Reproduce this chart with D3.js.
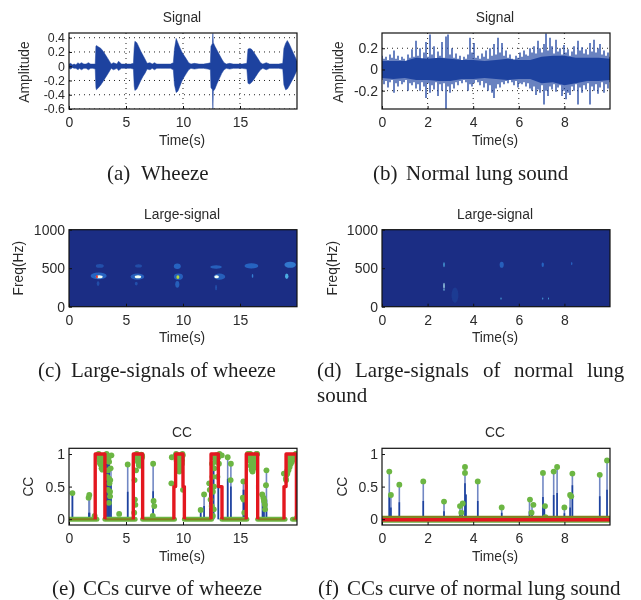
<!DOCTYPE html>
<html><head><meta charset="utf-8">
<style>html,body{margin:0;background:#fff}svg{display:block;filter:blur(.35px)}</style>
<script src="https://cdnjs.cloudflare.com/ajax/libs/d3/7.8.5/d3.min.js"></script>
</head><body><svg id="c" width="641" height="600"></svg>
<script>
// ---- data ----
const wheezeTicksY=[0.4,0.2,0,-0.2,-0.4,-0.6];
const wheezeLabelsY=["0.4","0.2","0","-0.2","-0.4","-0.6"];
const normalTicksY=[0.2,0,-0.2];
const normalLabelsY=["0.2","0","-0.2"];
const freqTicks=[0,500,1000];
const ccTicks=[0,0.5,1];
const ccLabels=["0","0.5","1"];
const ticks20=[0,5,10,15];
const ticks10=[0,2,4,6,8];

const wheezeT=[0,.15,.3,.45,.6,.8,.9,1.1,1.3,1.5,1.7,1.9,2.1,2.3,2.36,2.4,2.6,2.8,3,3.2,3.4,3.55,3.7,3.9,4.2,4.35,4.6,4.8,5.1,5.4,5.65,5.72,5.78,5.95,6.1,6.3,6.5,6.7,6.85,7.1,7.3,7.5,7.7,8,8.5,8.9,9.15,9.25,9.4,9.55,9.7,9.9,10.1,10.3,10.5,10.7,11,11.4,11.8,12.2,12.4,12.45,12.58,12.62,12.66,12.8,13,13.2,13.4,13.6,13.8,14.1,14.4,14.8,15.2,15.6,15.7,15.85,16,16.2,16.4,16.6,16.8,17,17.3,17.6,18,18.4,18.75,18.85,19,19.15,19.3,19.5,19.7,19.9,20];
const wheezeHi=[.03,.04,.02,.03,.02,.05,.03,.05,.03,.03,.05,.03,.03,.03,.28,.29,.27,.25,.21,.16,.11,.07,.03,.05,.03,.07,.03,.03,.03,.03,.04,.26,.35,.33,.28,.21,.15,.09,.04,.05,.03,.05,.03,.03,.03,.03,.05,.24,.39,.33,.27,.2,.15,.1,.05,.03,.04,.03,.03,.04,.05,.28,.32,.46,.33,.28,.22,.16,.1,.05,.03,.04,.03,.03,.03,.04,.24,.25,.24,.2,.15,.1,.05,.03,.05,.03,.03,.03,.04,.25,.32,.36,.32,.25,.18,.11,.07];
const wheezeLo=[-.03,-.04,-.02,-.03,-.03,-.05,-.03,-.05,-.03,-.03,-.05,-.03,-.03,-.04,-.3,-.33,-.3,-.26,-.21,-.16,-.11,-.07,-.03,-.05,-.03,-.06,-.03,-.03,-.03,-.03,-.04,-.28,-.34,-.32,-.27,-.2,-.14,-.09,-.04,-.05,-.03,-.05,-.03,-.03,-.03,-.03,-.05,-.26,-.37,-.35,-.29,-.21,-.15,-.1,-.05,-.03,-.04,-.03,-.03,-.04,-.05,-.3,-.33,-.6,-.35,-.32,-.24,-.17,-.1,-.05,-.03,-.04,-.03,-.03,-.03,-.04,-.24,-.25,-.23,-.19,-.14,-.09,-.05,-.03,-.05,-.03,-.03,-.03,-.04,-.26,-.33,-.32,-.28,-.22,-.16,-.09,-.06];

const normalHi=[.13,.1,.12,.09,.14,.11,.18,.1,.13,.09,.12,.1,.08,.14,.11,.19,.12,.27,.13,.2,.1,.16,.26,.12,.33,.14,.22,.1,.17,.13,.26,.11,.31,.33,.14,.2,.11,.15,.1,.13,.09,.12,.1,.14,.3,.16,.25,.11,.13,.1,.15,.12,.18,.1,.2,.13,.24,.14,.3,.16,.25,.13,.18,.11,.14,.1,.09,.13,.11,.16,.12,.18,.14,.13,.2,.16,.22,.15,.27,.2,.16,.24,.34,.18,.3,.22,.15,.28,.17,.2,.14,.23,.16,.19,.13,.17,.22,.14,.27,.18,.21,.15,.19,.14,.25,.17,.28,.16,.2,.24,.14,.18,.13,.16,.12];
const normalLo=[-.1,-.14,-.11,-.17,-.12,-.1,-.22,-.13,-.16,-.11,-.14,-.12,-.1,-.2,-.13,-.15,-.12,-.18,-.14,-.2,-.12,-.16,-.27,-.13,-.22,-.15,-.19,-.12,-.25,-.14,-.2,-.13,-.37,-.16,-.22,-.14,-.18,-.12,-.15,-.11,-.13,-.1,-.12,-.2,-.14,-.16,-.13,-.1,-.12,-.15,-.11,-.17,-.13,-.2,-.15,-.22,-.27,-.18,-.14,-.17,-.12,-.14,-.11,-.13,-.1,-.12,-.15,-.11,-.17,-.13,-.14,-.12,-.16,-.13,-.18,-.2,-.16,-.24,-.19,-.22,-.15,-.33,-.2,-.25,-.16,-.19,-.14,-.21,-.17,-.15,-.25,-.2,-.28,-.22,-.24,-.16,-.2,-.14,-.33,-.17,-.22,-.15,-.19,-.13,-.33,-.16,-.2,-.14,-.23,-.17,-.12,-.22,-.14,-.18,-.12];
const coreT=[0,.5,1,1.5,2,2.5,3,3.5,4,4.5,5,5.5,6,6.5,7,7.5,8,8.5,9,9.5,10];
const coreHi=[.08,.08,.08,.11,.1,.11,.1,.09,.09,.08,.09,.1,.09,.09,.12,.13,.13,.11,.11,.11,.1];
const coreLo=[-.08,-.09,-.08,-.1,-.1,-.11,-.11,-.09,-.09,-.08,-.09,-.1,-.09,-.09,-.13,-.12,-.15,-.13,-.11,-.11,-.1];

const heatT1=[2.6,6,9.6,13.2,16,19.4,2.7,6.1,9.5,12.9,16.1,19.1,2.55,5.9,9.5,12.9,2.65,6.05,12.95,9.55,2.45];
const heatF1=[400,390,390,390,530,545,530,530,525,515,400,395,300,300,290,250,390,390,388,385,390];
const heatW1=[.7,.6,.4,.5,.6,.5,.35,.3,.3,.5,.07,.15,.12,.12,.18,.07,.3,.28,.2,.13,.08];
const heatH1=[45,40,40,40,35,40,25,22,35,22,25,35,30,25,45,35,20,20,20,25,22];
const heatV1=[.22,.2,.2,.2,.22,.28,.14,.13,.22,.2,.3,.42,.13,.14,.2,.16,.68,.68,.68,.82,1];

const heatT2=[2.72,2.72,2.72,5.25,7.05,8.32,5.22,7.05,7.3,3.2];
const heatF2=[545,270,220,545,545,560,105,105,105,150];
const heatW2=[.03,.03,.025,.09,.05,.03,.025,.025,.02,.15];
const heatH2=[32,40,14,40,30,22,14,14,14,100];
const heatV2=[.42,.6,.55,.2,.22,.22,.42,.38,.42,.05];

const pulseT=[2.3,2.3,3.15,3.15,null,5.64,5.64,6.46,6.46,null,9.2,9.2,9.35,9.35,10,10,10.12,10.12,null,12.46,12.46,13.1,13.1,13.42,13.42,null,15.55,15.55,16.55,16.55,null,18.86,18.86,19.04,19.04,19.95,19.95];
const pulseV=[0,1,1,0,null,0,1,1,0,null,0,.5,.5,1,1,.5,.5,0,null,0,1,1,.5,.5,0,null,0,1,1,0,null,0,.5,.5,1,1,0];
const ccBaseFrom1=[0,3.15,6.46,10.12,13.42,16.55,19.6];
const ccBaseTo1=[2.45,5.8,9.25,12.5,15.6,18.95,20];

const stemT1=[.3,1.75,1.8,2.3,3.3,3.42,3.52,3.68,5.15,7.38,11.55,11.85,12.35,12.5,12.68,13.1,13.92,14.2,15.3,15.42,16.98,17.1,17.32];
const stemV1=[.4,.35,.33,.5,.95,.96,.94,.8,.84,.85,.12,.38,.55,.9,.9,.85,.95,.85,.58,.45,.35,.38,.75];
const stemD1=[.38,.1,.1,.5,.85,.92,.9,.6,.42,.43,.12,.2,.55,.9,.8,.6,.62,.5,.45,.3,.35,.38,.3];

const dotT1=[2.55,2.62,2.7,2.78,2.86,2.94,3.02,3.1,2.6,2.68,
 2.76,2.84,2.92,3,3.08,2.72,2.8,2.88,2.96,3.04,
 3.3,3.38,3.46,3.52,3.42,3.35,3.5,3.55,3.42,3.6,
 3.5,3.72,3.65,3.62,3.6,2.25,.3,1.72,1.78,4.4,
 5.15,7.38,7.42,7.48,7.35,5.75,5.78,5.72,5.82,5.88,
 5.9,5.98,6.05,6.12,6.2,6.28,6.36,5.95,6.02,6.1,
 6.18,6.26,6.34,6.08,6.16,6.24,6.3,6.4,6.42,6.14,
 9.36,9.44,9.52,9.6,9.68,9.76,9.84,9.92,9.98,9.4,
 9.48,9.56,9.64,9.72,9.8,9.88,9.95,9.5,9.58,9.66,
 9.74,9.82,9.9,9.02,8.98,10,9.6,9.7,9.8,9.9,
 11.55,11.85,12.3,12.35,12.42,12.52,12.62,12.7,12.55,12.65,
 12.75,12.85,13.02,13.15,13.2,12.58,12.9,12.72,12.62,13.92,
 14.2,14.18,15.3,15.25,15.38,15.32,13.4,13,12.95,13.1,
 15.7,15.78,15.86,15.94,16.02,16.1,16.18,16.26,16.34,16.42,
 15.8,15.88,15.96,16.04,16.12,16.2,16.28,16.36,16.44,16.5,
 15.9,15.98,16.06,16.14,16.22,16.3,16.95,17.05,17.12,17.18,
 17.32,17.28,17.2,17.1,18.85,19.02,19.08,19.14,19.22,19.3,
 19.38,19.5,19.62,19.75,19.88,19.96,19.2,19.32,19.46,19.05,
 19.15,19.25,19.35,19.45,19.55,19.65,19.8,19.9,20,19.98];
const dotV1=[.99,.95,.9,.84,.78,.76,.8,.9,1,.98,
 .97,.95,.92,.95,.98,.86,.88,.85,.85,.88,
 1,.97,.93,.88,.75,.65,.62,.55,.45,.42,
 .25,.98,.78,.6,.35,.05,.4,.33,.37,.08,
 .84,.85,.28,.2,.05,.6,.3,.1,.22,.75,
 .99,.94,.88,.83,.82,.86,.93,1,.98,.95,
 .93,.95,.99,.9,.88,.9,.97,.98,.96,.98,
 .98,.9,.83,.76,.73,.76,.82,.9,.98,1,
 .97,.93,.88,.84,.88,.94,1,.9,.82,.8,
 .8,.78,.85,.95,.55,.45,.98,.95,.98,.98,
 .14,.38,.55,.45,.3,.2,.05,.15,.85,.95,
 .78,.88,.65,.85,1,.65,.98,.5,.42,.95,
 .85,.6,.58,.33,.1,.3,.98,.98,.92,.95,
 1,.95,.9,.82,.76,.73,.78,.85,.92,.98,
 1,.98,.94,.9,.85,.88,.94,.98,1,1,
 1,.88,.82,.78,.8,.85,.38,.33,.27,.22,
 .75,.52,.15,.3,.7,.62,.68,.74,.8,.85,
 .9,.93,.96,.98,.99,1,.96,.9,.95,.6,
 .7,.75,.8,.85,.88,.92,.97,1,.02,.98];

const stemT2=[.32,.39,.76,1.81,2.72,3.42,3.52,3.64,3.68,4.2,5.25,6.47,6.58,7.06,7.12,7.53,7.68,8,8.25,8.35,9.55,9.87];
const stemV2=[.73,.37,.53,.58,.27,.2,.24,.8,.38,.58,.18,.3,.2,.71,.18,.73,.8,.18,.37,.7,.68,.9];
const stemD2=[.37,.18,.26,.28,.12,.12,.12,.55,.38,.28,.1,.12,.1,.34,.18,.37,.4,.09,.18,.52,.35,.45];
const dotT2=[.32,.39,.76,1.81,2.72,3.42,3.54,3.48,3.64,3.64,4.2,5.25,6.49,6.56,6.64,7.06,7.15,7.17,7.53,7.68,8,8.25,8.3,8.35,9.55,9.87];
const dotV2=[.73,.37,.53,.58,.27,.2,.24,.1,.8,.71,.58,.18,.3,.1,.22,.71,.2,.03,.73,.8,.18,.37,.35,.7,.68,.9];
const flatT2=[0,10];
const flatV2=[0,0];

const captionWords=[
 ["(a)",107,180],["Wheeze",141,180],
 ["(b)",373,180],["Normal lung sound",406,180],
 ["(c)",38,377],["Large-signals of wheeze",71,377],
 ["(d)",317,377],["Large-signals",355,377],["of",483,377],["normal",514,377],["lung",587,377],["sound",317,402],
 ["(e)",52,595],["CCs curve of wheeze",83,595],
 ["(f)",318,595],["CCs curve of normal lung sound",347,595]];

// ---- drawing ----
const svg=d3.select("#c");
const BLUE="#1d429f", LIGHT="#7288c4", GREEN="#6cb643", RED="#e3171f", OLIVE="#80801e", INK="#2b2b2b";
const sans="'Liberation Sans',Arial,sans-serif", serif="'Liberation Serif','Times New Roman',serif";
const defs=svg.append("defs");
defs.append("filter").attr("id","soft").attr("x","-50%").attr("y","-50%").attr("width","200%").attr("height","200%")
  .append("feGaussianBlur").attr("stdDeviation",.6);

function panel(o){
  const x=d3.scaleLinear().domain(o.xd).range([o.l,o.l+228]);
  const y=d3.scaleLinear().domain(o.yd).range([o.b,o.t]);
  const g=svg.append("g");
  const cid="clip"+o.id;
  defs.append("clipPath").attr("id",cid).append("rect").attr("x",o.l).attr("y",o.t).attr("width",228).attr("height",o.b-o.t);
  g.append("rect").attr("x",o.l).attr("y",o.t).attr("width",228).attr("height",o.b-o.t).attr("fill",o.bg||"#fff");
  const plot=g.append("g").attr("clip-path",`url(#${cid})`);
  if(o.grid){
    const gg=plot.append("g").attr("stroke","#222").attr("stroke-dasharray","1 4").attr("stroke-width",1);
    gg.selectAll(".v").data(o.xt.slice(1)).join("line").attr("x1",x).attr("x2",x).attr("y1",o.t).attr("y2",o.b);
    gg.selectAll(".h").data(o.yt).join("line").attr("x1",o.l).attr("x2",o.l+228).attr("y1",y).attr("y2",y);
  }
  o.draw(plot,x,y);
  const xa=d3.axisBottom(x).tickValues(o.xt).tickFormat(d3.format("d")).tickSizeInner(-3).tickSizeOuter(0).tickPadding(8);
  const ya=d3.axisLeft(y).tickValues(o.yt).tickFormat((d,i)=>o.yl[i]).tickSizeInner(-3).tickSizeOuter(0).tickPadding(4);
  const ax=g.append("g").attr("transform",`translate(0,${o.b})`).call(xa);
  const ay=g.append("g").attr("transform",`translate(${o.l},0)`).call(ya);
  [ax,ay].forEach(a=>{a.select(".domain").remove();
    a.selectAll("text").attr("font-family",sans).attr("font-size",14).attr("fill",INK);
    a.selectAll("line").attr("stroke","#111");});
  if(o.ytSize) ay.selectAll("text").attr("font-size",o.ytSize);
  g.append("rect").attr("x",o.l).attr("y",o.t).attr("width",228).attr("height",o.b-o.t).attr("fill","none").attr("stroke","#111").attr("stroke-width",1.2);
  const lab=(s,tx,ty,rot)=>g.append("text").text(s).attr("text-anchor","middle").attr("dominant-baseline","central")
     .attr("font-family",sans).attr("font-size",13.8).attr("fill",INK)
     .attr("transform",`translate(${tx},${ty})`+(rot?" rotate(-90)":""));
  lab(o.title,o.l+113,o.t-(o.titleGap),false);
  lab("Time(s)",o.l+113,o.b+(o.timeGap),false);
  lab(o.ylabel,o.ylx,(o.t+o.b)/2+(o.yly||0),true);
}

function zipArea(T,Hi,Lo){return T.map((t,i)=>({t,hi:Hi[i],lo:Lo[i]}));}
const heatColor=d3.scaleLinear().domain([0,.25,.5,.68,.82,1]).range(["#1b2d84","#2a6cc9","#5cc8ee","#f2fff4","#b8d93a","#e02a20"]);
function heat(T,F,W,H,V){
  return (p,x,y)=>{
    p.append("g").attr("filter","url(#soft)").selectAll("ellipse").data(T.map((t,i)=>i)).join("ellipse")
      .attr("cx",i=>x(T[i])).attr("cy",i=>y(F[i]))
      .attr("rx",i=>Math.abs(x(W[i])-x(0))).attr("ry",i=>Math.abs(y(H[i])-y(0)))
      .attr("fill",i=>heatColor(V[i]));
  };
}
function cc(stT,stV,stD,dT,dV,after){
  return (p,x,y)=>{
    const s=p.append("g");
    s.selectAll(".l").data(stT).join("line").attr("x1",x).attr("x2",x).attr("y1",y(0)).attr("y2",(d,i)=>y(stV[i])).attr("stroke",LIGHT).attr("stroke-width",1.6);
    s.selectAll(".d").data(stT).join("line").attr("x1",x).attr("x2",x).attr("y1",y(0)).attr("y2",(d,i)=>y(stD[i])).attr("stroke",BLUE).attr("stroke-width",1.6);
    after(p,x,y,()=>{
      p.append("g").selectAll("path").data(dT).join("path")
       .attr("d",d3.symbol(d3.symbolCircle,27)).attr("transform",(d,i)=>`translate(${x(d)},${y(dV[i])})`).attr("fill",GREEN);
    });
  };
}

panel({id:"a",l:69,t:33,b:109,xd:[0,20],yd:[-.6,.466],xt:ticks20,yt:wheezeTicksY,yl:wheezeLabelsY,ytSize:12.4,grid:true,title:"Signal",titleGap:16,timeGap:31,ylabel:"Amplitude",ylx:24,yly:1,
 draw:(p,x,y)=>{
  p.append("path").datum(zipArea(wheezeT,wheezeHi,wheezeLo)).attr("fill",BLUE).attr("stroke",BLUE).attr("stroke-width",.5)
   .attr("d",d3.area().x(d=>x(d.t)).y0(d=>y(d.lo)).y1(d=>y(d.hi)));
 }});
panel({id:"b",l:382,t:33,b:109,xd:[0,10],yd:[-.373,.344],xt:ticks10,yt:normalTicksY,yl:normalLabelsY,grid:true,title:"Signal",titleGap:16,timeGap:31,ylabel:"Amplitude",ylx:338,yly:1,
 draw:(p,x,y)=>{
  const n=normalHi.length-1;
  p.append("g").selectAll("line").data(normalHi).join("line")
   .attr("x1",(d,i)=>x(i*10/n)).attr("x2",(d,i)=>x(i*10/n)).attr("y1",y).attr("y2",(d,i)=>y(normalLo[i]))
   .attr("stroke",BLUE).attr("stroke-width",1.5).attr("stroke-opacity",.88);
  p.append("path").datum(zipArea(coreT,coreHi,coreLo)).attr("fill",BLUE)
   .attr("d",d3.area().x(d=>x(d.t)).y0(d=>y(d.lo)).y1(d=>y(d.hi)));
 }});
panel({id:"c",l:69,t:229.7,b:306.7,xd:[0,20],yd:[0,1000],xt:ticks20,yt:freqTicks,yl:freqTicks.map(String),bg:"#1b2d84",title:"Large-signal",titleGap:15.5,timeGap:30.5,ylabel:"Freq(Hz)",ylx:18,
 draw:heat(heatT1,heatF1,heatW1,heatH1,heatV1)});
panel({id:"d",l:382,t:229.7,b:306.7,xd:[0,10],yd:[0,1000],xt:ticks10,yt:freqTicks,yl:freqTicks.map(String),bg:"#1b2d84",title:"Large-signal",titleGap:15.5,timeGap:30.5,ylabel:"Freq(Hz)",ylx:332,
 draw:heat(heatT2,heatF2,heatW2,heatH2,heatV2)});
panel({id:"e",l:69,t:448.3,b:525,xd:[0,20],yd:[-.09,1.088],xt:ticks20,yt:ccTicks,yl:ccLabels,title:"CC",titleGap:16,timeGap:31,ylabel:"CC",ylx:28,
 draw:cc(stemT1,stemV1,stemD1,dotT1,dotV1,(p,x,y,dots)=>{
  const b=p.append("g");
  b.selectAll(".g").data(ccBaseFrom1).join("line").attr("x1",x).attr("x2",(d,i)=>x(ccBaseTo1[i])).attr("y1",y(0)).attr("y2",y(0)).attr("stroke",GREEN).attr("stroke-width",5).attr("stroke-linecap","round");
  dots();
  const o=p.append("g");
  o.selectAll(".o").data(ccBaseFrom1).join("line").attr("x1",x).attr("x2",(d,i)=>x(ccBaseTo1[i])).attr("y1",y(0)).attr("y2",y(0)).attr("stroke",OLIVE).attr("stroke-width",2);
  const L=d3.line().defined(d=>d.t!==null).x(d=>x(d.t)).y(d=>y(d.v));
  p.append("path").datum(pulseT.map((t,i)=>({t,v:pulseV[i]}))).attr("d",L).attr("fill","none").attr("stroke",RED).attr("stroke-width",3.4).attr("stroke-linejoin","round");
 })});
panel({id:"f",l:382,t:448.3,b:525,xd:[0,10],yd:[-.09,1.088],xt:ticks10,yt:ccTicks,yl:ccLabels,title:"CC",titleGap:16,timeGap:31,ylabel:"CC",ylx:342,
 draw:cc(stemT2,stemV2,stemD2,dotT2,dotV2,(p,x,y,dots)=>{
  p.append("line").attr("x1",x(0)).attr("x2",x(10)).attr("y1",y(-.01)).attr("y2",y(-.01)).attr("stroke",GREEN).attr("stroke-width",6);
  dots();
  p.append("line").attr("x1",x(0)).attr("x2",x(10)).attr("y1",y(.035)).attr("y2",y(.035)).attr("stroke",OLIVE).attr("stroke-width",2);
  const L=d3.line().x(d=>x(d)).y((d,i)=>y(flatV2[i]-.01));
  p.append("path").datum(flatT2).attr("d",L).attr("stroke",RED).attr("stroke-width",3.6).attr("fill","none");
 })});

svg.append("g").selectAll("text").data(captionWords).join("text")
  .text(d=>d[0]).attr("x",d=>d[1]).attr("y",d=>d[2])
  .attr("font-family",serif).attr("font-size",21).attr("fill","#1e1e1e");
</script></body></html>
